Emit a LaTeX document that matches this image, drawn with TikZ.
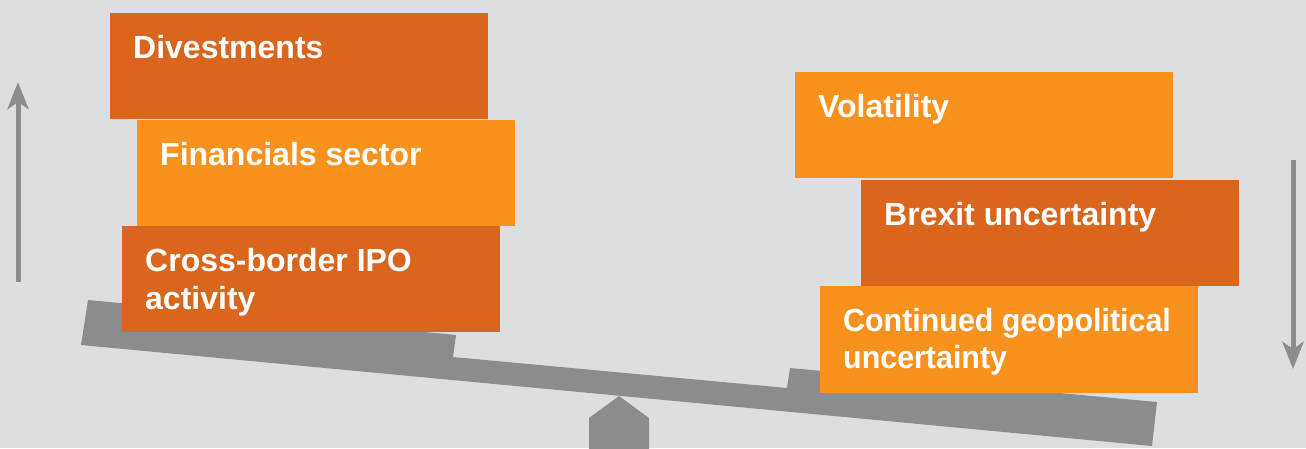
\documentclass[tikz,border=0pt]{standalone}
\usepackage{fontspec}
\setmainfont{Liberation Sans}
\usetikzlibrary{arrows.meta,calc}
\definecolor{bg}{RGB}{221,222,224}
\definecolor{darkor}{RGB}{217,102,28}
\definecolor{lightor}{RGB}{247,146,30}
\definecolor{beamgrey}{RGB}{139,140,144}
\tikzset{
  box/.style={anchor=north west, inner sep=0pt, minimum width=378pt, minimum height=106pt},
  darkbox/.style={box, fill=darkor},
  lightbox/.style={box, fill=lightor},
  boxtext/.style={anchor=north west, inner sep=0pt, text=white, align=left,
    font=\fontsize{32}{38}\selectfont\bfseries},
  trend/.style={draw=beamgrey, line width=5pt, -{Stealth[length=27pt, width=21pt, inset=7pt]}}
}
\begin{document}
\begin{tikzpicture}[x=1pt, y=-1pt]
\fill[bg] (0,0) rectangle (1306,448);
\useasboundingbox (0,0) rectangle (1306,448);
% fulcrum
\fill[beamgrey] (589,449) -- (589,418) -- (619,396) -- (649,418) -- (649,449) -- cycle;
% beam
\fill[beamgrey] (88,300) -- (456,335) -- (453,357) -- (787,388) -- (790,368) -- (1157,402) -- (1152,446) -- (81,345) -- cycle;
% arrows
\coordinate (u1) at (18,282);
\coordinate (u2) at (18,82);
\coordinate (d1) at (1293,160);
\coordinate (d2) at (1293,369);
\draw[trend] (u1) -- (u2);
\draw[trend] (d1) -- (d2);
% left boxes
\node[darkbox] (b1) at (110,13) {};
\node[boxtext] (t1) at ($(b1.north west)+(23,22.5)$) {Divestments};
\node[lightbox] (b2) at (137,120) {};
\node[boxtext] (t2) at ($(b2.north west)+(23,22.5)$) {Financials sector};
\node[darkbox] (b3) at (122,226) {};
\node[boxtext] (t3) at ($(b3.north west)+(23,22.5)$) {Cross-border IPO\\activity};
% right boxes
\node[lightbox] (b4) at (795,72) {};
\node[boxtext] (t4) at ($(b4.north west)+(23,22.5)$) {Volatility};
\node[darkbox] (b5) at (861,180) {};
\node[boxtext] (t5) at ($(b5.north west)+(23,22.5)$) {Brexit uncertainty};
\node[lightbox, minimum height=107pt] (b6) at (820,286) {};
\node[boxtext, font=\fontsize{32}{37}\selectfont\bfseries] (t6) at ($(b6.north west)+(23,22.5)$) {\scalebox{0.95}[1]{Continued geopolitical}\\\scalebox{0.95}[1]{uncertainty}};
\end{tikzpicture}
\end{document}
